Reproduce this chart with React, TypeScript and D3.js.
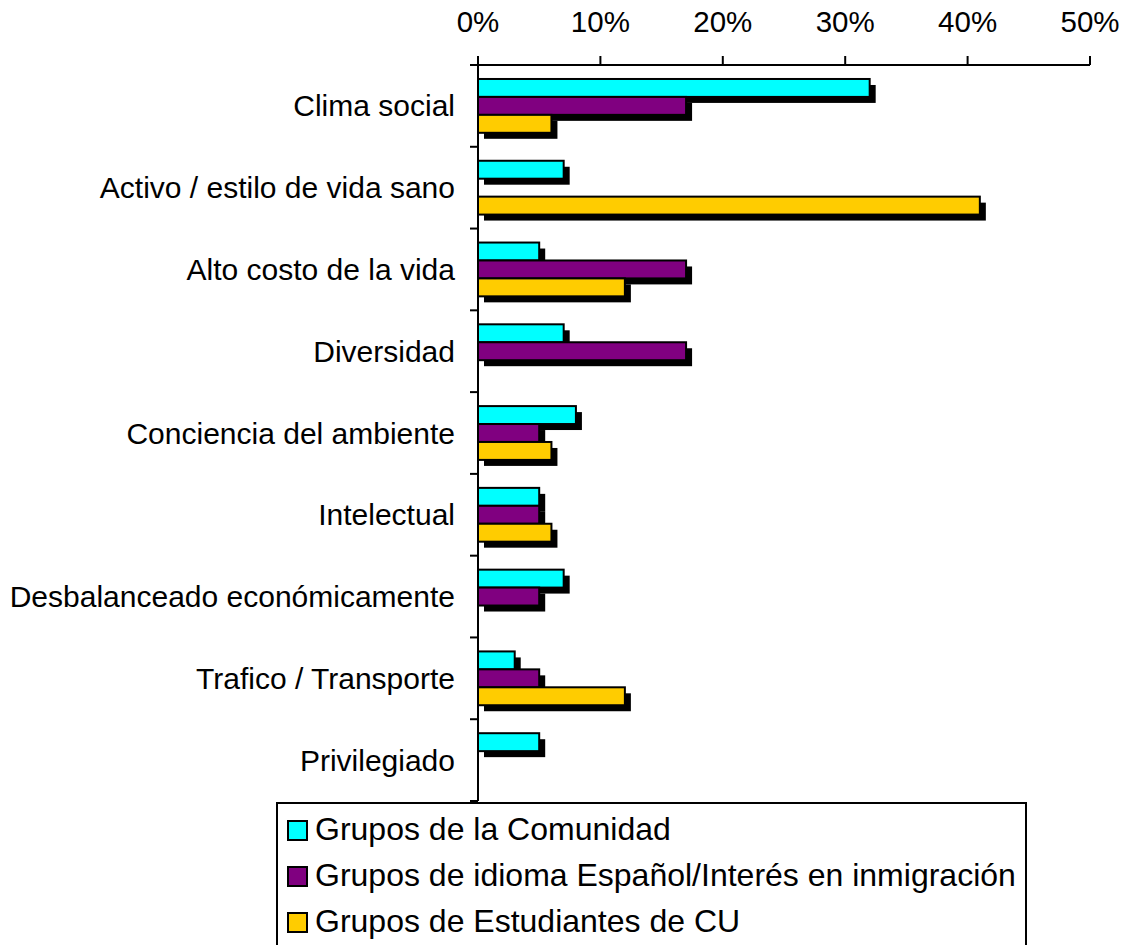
import React from "react";
import * as d3 from "d3";

const categories = [
  "Clima social",
  "Activo / estilo de vida sano",
  "Alto costo de la vida",
  "Diversidad",
  "Conciencia del ambiente",
  "Intelectual",
  "Desbalanceado económicamente",
  "Trafico / Transporte",
  "Privilegiado",
];

const seriesNames = [
  "Grupos de la Comunidad",
  "Grupos de idioma Español/Interés en inmigración",
  "Grupos de Estudiantes de CU",
];

const comunidad = [32, 7, 5, 7, 8, 5, 7, 3, 5];
const espanol = [17, 0, 17, 17, 5, 5, 5, 5, 0];
const estudiantes = [6, 41, 12, 0, 6, 6, 0, 12, 0];

const seriesColors = ["#00FFFF", "#800080", "#FFCC00"];
const xTicks = [0, 10, 20, 30, 40, 50];

const W = 1134;
const H = 945;
const FONT = "'Liberation Sans', Arial, Helvetica, sans-serif";

export default function App() {
  const series = [comunidad, espanol, estudiantes];
  const x = d3.scaleLinear().domain([0, 50]).range([478, 1090]);
  const y = d3.scaleBand<string>().domain(categories).range([65, 801]).padding(0);
  const bw = y.bandwidth();
  const inner = d3
    .scaleBand<number>()
    .domain([0, 1, 2])
    .range([bw * 0.171, bw * 0.829])
    .padding(0);
  const bh = inner.bandwidth();
  const sh = 6;

  return (
    <svg
      width={W}
      height={H}
      style={{ position: "absolute", left: 0, top: 0, background: "#fff" }}
      fontFamily={FONT}
    >
      <rect x={0} y={0} width={W} height={H} fill="#fff" />
      {/* bars */}
      {categories.map((c, ci) => (
        <g key={c}>
          {series.map((s, si) => {
            const v = s[ci];
            if (!v) return null;
            const y0 = (y(c) as number) + (inner(si) as number);
            const w = x(v) - x(0);
            return (
              <g key={si}>
                <rect x={x(0) + sh} y={y0 + sh} width={w} height={bh} fill="#000" />
                <rect
                  x={x(0)}
                  y={y0}
                  width={w}
                  height={bh}
                  fill={seriesColors[si]}
                  stroke="#000"
                  strokeWidth={2}
                />
              </g>
            );
          })}
        </g>
      ))}
      {/* top axis */}
      <line x1={471} x2={x(50)} y1={65} y2={65} stroke="#000" strokeWidth={2} />
      {xTicks.map((t) => (
        <g key={t}>
          <line x1={x(t)} x2={x(t)} y1={56} y2={65} stroke="#000" strokeWidth={2} />
          <text x={x(t)} y={32} textAnchor="middle" fontSize={29.5} fill="#000">
            {t}%
          </text>
        </g>
      ))}
      {/* left axis */}
      <line x1={x(0)} x2={x(0)} y1={65} y2={801} stroke="#000" strokeWidth={2} />
      {[...categories.map((c) => y(c) as number), 801].map((t, i) => (
        <line key={i} x1={470} x2={x(0)} y1={t} y2={t} stroke="#000" strokeWidth={2} />
      ))}
      {categories.map((c) => (
        <text
          key={c}
          x={455}
          y={(y(c) as number) + bw / 2 + 10.5}
          textAnchor="end"
          fontSize={30}
          fill="#000"
        >
          {c}
        </text>
      ))}
      {/* legend */}
      <rect x={277} y={803} width={749} height={160} fill="#fff" stroke="#000" strokeWidth={2} />
      {seriesNames.map((n, i) => (
        <g key={n}>
          <rect
            x={288}
            y={821 + i * 46}
            width={19}
            height={19}
            fill={seriesColors[i]}
            stroke="#000"
            strokeWidth={2}
          />
          <text x={315} y={840 + i * 46} fontSize={32} fill="#000">
            {n}
          </text>
        </g>
      ))}
    </svg>
  );
}
